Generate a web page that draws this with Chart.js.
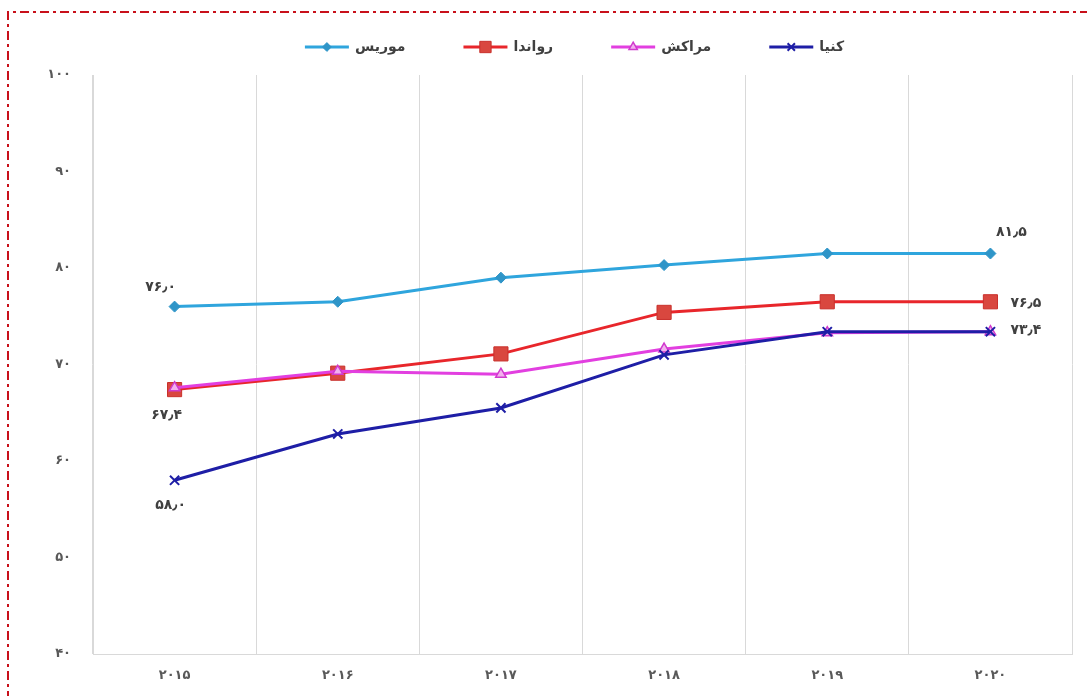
<!DOCTYPE html>
<html lang="fa">
<head>
<meta charset="utf-8">
<title>امید به زندگی</title>
<script src="https://cdn.jsdelivr.net/npm/chart.js@4.4.1/dist/chart.umd.min.js"></script>
<style>
  html, body { margin: 0; padding: 0; background: #ffffff; }
  #wrap { width: 1087px; height: 696px; position: relative; }
  canvas { display: block; }
</style>
</head>
<body>
<div id="wrap"><canvas id="chart" width="1087" height="696"></canvas></div>
<script>
// Years on the category axis
const categories = ['۲۰۱۵', '۲۰۱۶', '۲۰۱۷', '۲۰۱۸', '۲۰۱۹', '۲۰۲۰'];

// Series values
const seriesNames = ['موریس', 'رواندا', 'مراکش', 'کنیا'];
const mauritius = [76.0, 76.5, 79.0, 80.3, 81.5, 81.5];
const rwanda    = [67.4, 69.1, 71.1, 75.4, 76.5, 76.5];
const morocco   = [67.6, 69.3, 69.0, 71.6, 73.3, 73.4];
const kenya     = [58.0, 62.8, 65.5, 71.0, 73.4, 73.4];

// Value axis range
const yMin = 40;
const yMax = 100;
const yStep = 10;

// Points that carry a value label: [series index, point index]
const labelledPoints = [[0, 0], [0, 5], [1, 0], [1, 5], [3, 0], [3, 5]];

const FONT = "'DejaVu Sans', 'Noto Sans', sans-serif";
const PERSIAN = ['۰', '۱', '۲', '۳', '۴', '۵', '۶', '۷', '۸', '۹'];
function toPersian(str) {
  return String(str).replace(/[0-9]/g, d => PERSIAN[+d]).replace('.', '٫');
}

// Visual style for each series
const styles = [
  { line: '#2FA5DD', point: 'rectRot', radius: 5.5, fill: '#2F95C8', border: '#2F95C8', bw: 1 },
  { line: '#E8262B', point: 'rect', radius: 10, fill: '#D9473F', border: '#C9302B', bw: 1 },
  { line: '#E23FE0', point: 'triangle', radius: 6, fill: '#F2B0EE', border: '#D03ACD', bw: 1.5 },
  { line: '#1E1EA6', point: 'crossRot', radius: 6.5, fill: '#1E1EA6', border: '#1E1EA6', bw: 2 }
];
const seriesData = [mauritius, rwanda, morocco, kenya];

// Placement of each value label relative to its point (dx, dy, align)
const labelPlacement = {
  '0-0': [-14, -19, 'center'],
  '0-5': [21, -21, 'center'],
  '1-0': [-8, 26, 'center'],
  '1-5': [20, 2, 'left'],
  '3-0': [-4, 25, 'center'],
  '3-5': [20, -1, 'left']
};

const datasets = seriesNames.map((name, i) => ({
  label: name,
  data: seriesData[i],
  borderColor: styles[i].line,
  backgroundColor: styles[i].fill,
  borderWidth: 3,
  tension: 0,
  pointStyle: styles[i].point,
  pointRadius: styles[i].radius,
  pointHoverRadius: styles[i].radius,
  pointBackgroundColor: styles[i].fill,
  pointBorderColor: styles[i].border,
  pointBorderWidth: styles[i].bw,
  order: [3, 2, 1, 0][i],
  fill: false
}));

// Dash-dot frame around the figure
const framePlugin = {
  id: 'frame',
  beforeDraw(chart) {
    const ctx = chart.ctx;
    ctx.save();
    ctx.strokeStyle = '#C8101A';
    ctx.lineWidth = 2;
    ctx.setLineDash([9, 4, 3, 4]);
    ctx.beginPath();
    ctx.moveTo(8, 700);
    ctx.lineTo(8, 12);
    ctx.lineTo(1090, 12);
    ctx.stroke();
    ctx.restore();
  }
};

// Legend: line sample with marker, followed by the series name
function drawMarker(ctx, st, x, y) {
  ctx.save();
  ctx.fillStyle = st.fill;
  ctx.strokeStyle = st.border;
  ctx.lineWidth = st.bw;
  Chart.helpers.drawPoint(ctx, { pointStyle: st.point, radius: st.radius * 0.8, rotation: 0, borderWidth: st.bw }, x, y);
  ctx.restore();
}
const legendPlugin = {
  id: 'lineLegend',
  afterDraw(chart) {
    const ctx = chart.ctx;
    const area = chart.chartArea;
    const iconW = 44, textGap = 6, itemGap = 58, y = 47;
    ctx.save();
    ctx.font = 'bold 14px ' + FONT;
    const widths = seriesNames.map(n => ctx.measureText(n).width);
    let total = widths.reduce((a, b) => a + b, 0) + seriesNames.length * (iconW + textGap) + (seriesNames.length - 1) * itemGap;
    let x = (area.left + area.right) / 2 - total / 2 - 8;
    seriesNames.forEach((name, i) => {
      const st = styles[i];
      ctx.strokeStyle = st.line;
      ctx.lineWidth = 3;
      ctx.beginPath();
      ctx.moveTo(x, y);
      ctx.lineTo(x + iconW, y);
      ctx.stroke();
      drawMarker(ctx, st, x + iconW / 2, y);
      ctx.fillStyle = '#404040';
      ctx.textAlign = 'left';
      ctx.textBaseline = 'middle';
      ctx.fillText(name, x + iconW + textGap, y);
      x += iconW + textGap + widths[i] + itemGap;
    });
    ctx.restore();
  }
};

// Value labels at selected points
const valueLabelPlugin = {
  id: 'valueLabels',
  afterDatasetsDraw(chart) {
    const ctx = chart.ctx;
    ctx.save();
    ctx.font = 'bold 14px ' + FONT;
    ctx.fillStyle = '#404040';
    ctx.textBaseline = 'middle';
    labelledPoints.forEach(([s, p]) => {
      const el = chart.getDatasetMeta(s).data[p];
      const [dx, dy, align] = labelPlacement[s + '-' + p];
      ctx.textAlign = align;
      ctx.fillText(toPersian(seriesData[s][p].toFixed(1)), el.x + dx, el.y + dy);
    });
    ctx.restore();
  }
};

new Chart(document.getElementById('chart'), {
  type: 'line',
  data: { labels: categories, datasets },
  plugins: [framePlugin, legendPlugin, valueLabelPlugin],
  options: {
    responsive: false,
    animation: false,
    devicePixelRatio: 1,
    layout: { padding: { top: 75, right: 15, bottom: 0, left: 0 } },
    plugins: {
      legend: { display: false },
      tooltip: { enabled: false },
      title: { display: false }
    },
    scales: {
      x: {
        offset: true,
        grid: { display: true, offset: true, color: '#D9D9D9', lineWidth: 1, drawTicks: false },
        border: { display: true, color: '#D9D9D9', width: 1 },
        ticks: { color: '#595959', font: { family: FONT, size: 13, weight: 'bold' }, padding: 14 },
        afterFit(scale) { scale.height = 42; scale.paddingLeft = 0; scale.paddingRight = 0; }
      },
      y: {
        min: yMin,
        max: yMax,
        ticks: {
          stepSize: yStep,
          color: '#595959',
          font: { family: FONT, size: 13, weight: 'bold' },
          padding: 22,
          callback: v => toPersian(v)
        },
        grid: { display: false, drawTicks: false },
        border: { display: true, color: '#D9D9D9', width: 1 },
        afterFit(scale) { scale.width = 93; scale.paddingTop = 0; scale.paddingBottom = 0; }
      }
    }
  }
});
</script>
</body>
</html>
